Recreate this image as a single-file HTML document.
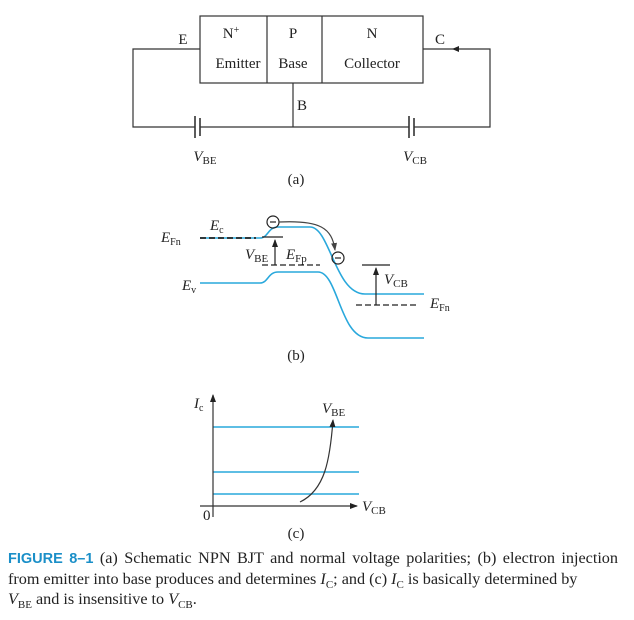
<!DOCTYPE html>
<html><head><meta charset="utf-8"><style>
body{margin:0;background:#fff;width:634px;height:620px;overflow:hidden;position:relative}
svg{position:absolute;left:0;top:0}
text{font-family:"Liberation Serif",serif;fill:#222}
.cap{position:absolute;left:8px;top:548px;width:610px;font-family:"Liberation Serif",serif;font-size:16.2px;line-height:20px;color:#222;text-align:justify}
.cap b{font-family:"Liberation Sans",sans-serif;color:#1a8fc8;font-weight:bold;font-size:14.5px}
.cap sub{font-size:11px;line-height:0}
</style></head><body>
<svg width="634" height="620" viewBox="0 0 634 620">
<defs><marker id="ah" markerWidth="8" markerHeight="8" refX="7" refY="4" orient="auto" markerUnits="userSpaceOnUse"><path d="M0,1 L8,4 L0,7z" fill="#222"/></marker>
<marker id="ag" markerWidth="8" markerHeight="8" refX="7" refY="4" orient="auto" markerUnits="userSpaceOnUse"><path d="M0,1 L8,4 L0,7z" fill="#444"/></marker></defs>
<g stroke="#333" stroke-width="1.2" fill="none">
<rect x="200" y="16" width="223" height="67"/>
<line x1="267" y1="16" x2="267" y2="83"/><line x1="322" y1="16" x2="322" y2="83"/>
<polyline points="200,49 133,49 133,127 195,127"/>
<line x1="200" y1="127" x2="409" y2="127"/>
<line x1="293" y1="83" x2="293" y2="127"/>
<polyline points="414,127 490,127 490,49 423,49"/>
<line x1="195" y1="116" x2="195" y2="138" stroke-width="1.6"/>
<line x1="200" y1="118" x2="200" y2="136" stroke-width="1.6"/>
<line x1="409" y1="116" x2="409" y2="138" stroke-width="1.6"/>
<line x1="414" y1="118" x2="414" y2="136" stroke-width="1.6"/>
</g>
<path d="M452,49 l7,-3 v6z" fill="#222"/>
<g font-size="15" text-anchor="middle">
<text x="183" y="44">E</text><text x="231" y="38">N<tspan font-size="10" dy="-5">+</tspan></text>
<text x="293" y="38">P</text><text x="372" y="38">N</text><text x="440" y="44">C</text>
<text x="238" y="68">Emitter</text><text x="293" y="68">Base</text><text x="372" y="68">Collector</text>
<text x="302" y="110">B</text>
<text x="205" y="161"><tspan font-style="italic">V</tspan><tspan font-size="11" dy="3">BE</tspan></text>
<text x="415" y="161"><tspan font-style="italic">V</tspan><tspan font-size="11" dy="3">CB</tspan></text>
<text x="296" y="184">(a)</text>
</g>
<g fill="none" stroke="#29a8dc" stroke-width="1.6">
<path d="M200,238 L260,238 C268,238 268,227 278,227 L310,227 C330,227 335,294 365,294 L424,294"/>
<path d="M200,283 L260,283 C268,283 268,272 278,272 L318,272 C338,272 340,338 368,338 L424,338"/>
</g>
<g stroke="#222" stroke-width="1.2" fill="none">
<line x1="200" y1="238" x2="256" y2="238" stroke-dasharray="6,3" stroke-width="1.8"/>
<line x1="262" y1="265" x2="320" y2="265" stroke-dasharray="6,3"/>
<line x1="262" y1="237" x2="283" y2="237"/>
<line x1="275" y1="265" x2="275" y2="240" marker-end="url(#ah)"/>
<line x1="362" y1="265" x2="390" y2="265"/>
<line x1="356" y1="305" x2="418" y2="305" stroke-dasharray="6,3"/>
<line x1="376" y1="305" x2="376" y2="268" marker-end="url(#ah)"/>
<circle cx="273" cy="222" r="6"/><line x1="270" y1="222" x2="276" y2="222"/>
<circle cx="338" cy="258" r="6"/><line x1="335" y1="258" x2="341" y2="258"/>
<path d="M279,222 C320,220 332,228 335,250" stroke="#444" marker-end="url(#ag)"/>
</g>
<g font-size="15">
<text x="161" y="242" font-style="italic">E<tspan font-size="10" dy="3" font-style="normal">Fn</tspan></text>
<text x="210" y="230" font-style="italic">E<tspan font-size="10" dy="3" font-style="normal">c</tspan></text>
<text x="245" y="259" font-style="italic">V<tspan font-size="11" dy="3" font-style="normal">BE</tspan></text>
<text x="286" y="259" font-style="italic">E<tspan font-size="11" dy="3" font-style="normal">Fp</tspan></text>
<text x="182" y="290" font-style="italic">E<tspan font-size="10" dy="3" font-style="normal">v</tspan></text>
<text x="384" y="284" font-style="italic">V<tspan font-size="11" dy="3" font-style="normal">CB</tspan></text>
<text x="430" y="308" font-style="italic">E<tspan font-size="10" dy="3" font-style="normal">Fn</tspan></text>
<text x="296" y="360" text-anchor="middle">(b)</text>
</g>
<g stroke="#29a8dc" stroke-width="1.5">
<line x1="213" y1="427" x2="359" y2="427"/><line x1="213" y1="472" x2="359" y2="472"/><line x1="213" y1="494" x2="359" y2="494"/>
</g>
<g stroke="#333" stroke-width="1.2" fill="none">
<line x1="213" y1="517" x2="213" y2="395" marker-end="url(#ah)"/>
<line x1="200" y1="506" x2="357" y2="506" marker-end="url(#ah)"/>
<path d="M300,502 C325,490 330,460 333,420" marker-end="url(#ah)"/>
</g>
<g font-size="15">
<text x="194" y="408" font-style="italic">I<tspan font-size="10" dy="3" font-style="normal">c</tspan></text>
<text x="322" y="413" font-style="italic">V<tspan font-size="11" dy="3" font-style="normal">BE</tspan></text>
<text x="362" y="511" font-style="italic">V<tspan font-size="11" dy="3" font-style="normal">CB</tspan></text>
<text x="203" y="520">0</text>
<text x="296" y="538" text-anchor="middle">(c)</text>
</g>
</svg>
<div class="cap"><b>FIGURE 8–1</b> (a) Schematic NPN BJT and normal voltage polarities; (b) electron injection from emitter into base produces and determines <i>I</i><sub>C</sub>; and (c) <i>I</i><sub>C</sub> is basically determined by<br><i>V</i><sub>BE</sub> and is insensitive to <i>V</i><sub>CB</sub>.</div>
</body></html>
